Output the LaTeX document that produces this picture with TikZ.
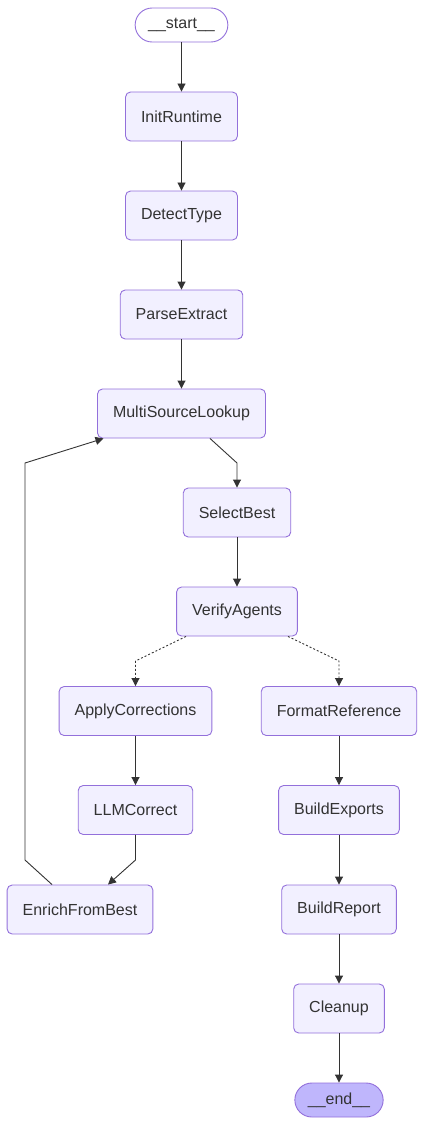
\documentclass[tikz,border=0pt]{standalone}
\usepackage{fontspec}
\setmainfont{Liberation Sans}
\usetikzlibrary{arrows.meta}
\definecolor{nodefill}{HTML}{F2F0FF}
\definecolor{nodeline}{HTML}{9370DB}
\definecolor{endfill}{HTML}{BFB6FC}
\definecolor{edgecol}{HTML}{333333}
\tikzset{
  box/.style={draw=nodeline,fill=nodefill,line width=0.9pt,rounded corners=5pt,
    minimum height=49pt,inner xsep=15.5pt,text=edgecol,font=\fontsize{16}{19}\selectfont},
  pill/.style={box,rounded corners=17pt,minimum height=34pt,inner xsep=13pt},
  edge/.style={draw=edgecol,line width=0.9pt,-{Triangle[length=8pt,width=8pt]}},
  dotedge/.style={edge,dash pattern=on 2pt off 2pt}
}
\begin{document}
\begin{tikzpicture}[x=1pt,y=-1pt]
\useasboundingbox (0,0) rectangle (424,1126);
\node[pill,fill=white] (start) at (181.5,25) {\_\_start\_\_};
\node[box] (init) at (181.5,116.5) {InitRuntime};
\node[box] (detect) at (181.5,215.5) {DetectType};
\node[box] (parse) at (181.5,314.5) {ParseExtract};
\node[box] (lookup) at (181.5,413.5) {MultiSourceLookup};
\node[box] (select) at (237,512.5) {SelectBest};
\node[box] (verify) at (237,611.5) {VerifyAgents};
\node[box] (apply) at (135.5,711) {ApplyCorrections};
\node[box] (format) at (339,711) {FormatReference};
\node[box] (llm) at (135.5,810) {LLMCorrect};
\node[box] (exports) at (339,810) {BuildExports};
\node[box] (enrich) at (80,909.5) {EnrichFromBest};
\node[box] (report) at (339,909.5) {BuildReport};
\node[box] (cleanup) at (339,1008.5) {Cleanup};
\node[pill,fill=endfill] (end) at (339,1100) {\_\_end\_\_};
\draw[edge] (start) -- (init);
\draw[edge] (init) -- (detect);
\draw[edge] (detect) -- (parse);
\draw[edge] (parse) -- (lookup);
\draw[edge] ([xshift=28.5pt]lookup.south) -- (237,463) -- (select.north);
\draw[edge] (select) -- (verify);
\draw[dotedge] ([xshift=-51pt]verify.south) -- (135.5,661) -- (apply.north);
\draw[dotedge] ([xshift=51pt]verify.south) -- (339,661) -- (format.north);
\draw[edge] (apply) -- (llm);
\draw[edge] (llm.south) -- (135.5,860) -- ([xshift=28pt]enrich.north);
\draw[edge] ([xshift=-28pt]enrich.north) -- (25,860) -- (25,463) -- ([xshift=-78pt]lookup.south);
\draw[edge] (format) -- (exports);
\draw[edge] (exports) -- (report);
\draw[edge] (report) -- (cleanup);
\draw[edge] (cleanup) -- (end);
\end{tikzpicture}
\end{document}
